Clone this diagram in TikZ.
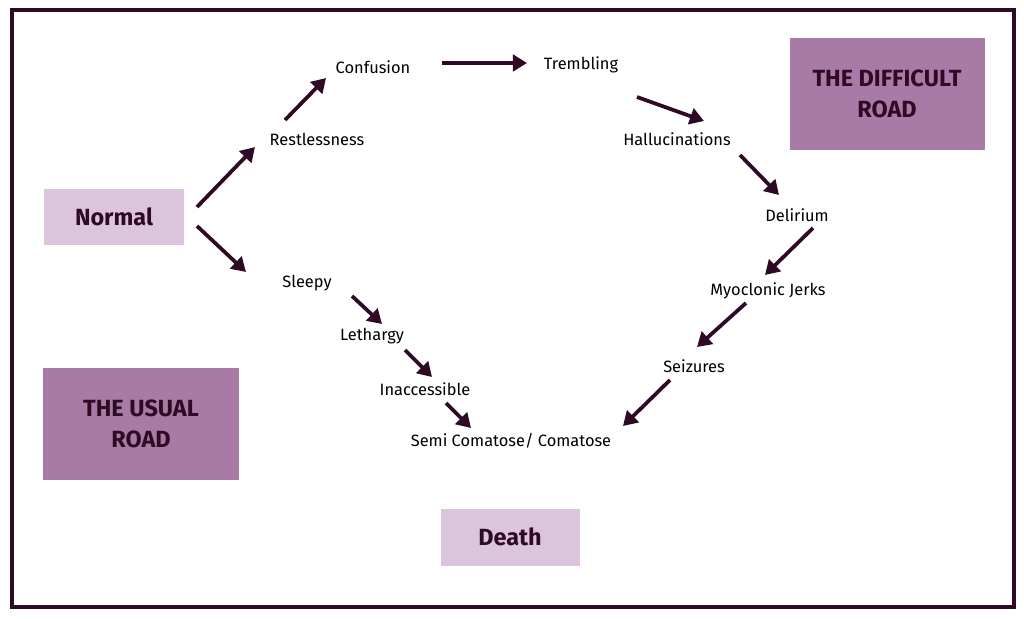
\documentclass[tikz,border=0pt]{standalone}
\usepackage{fontspec}
\setmainfont{Fira Sans}
\usetikzlibrary{arrows.meta}
\definecolor{plum}{HTML}{2E0A24}
\definecolor{lightplum}{HTML}{DCC4DC}
\definecolor{midplum}{HTML}{A87BA6}
\begin{document}
\begin{tikzpicture}[x=0.03cm,y=-0.03cm,
                    move/.style={-{Triangle[length=12pt,width=14pt]},line width=3.2pt,draw=plum},
                    stage/.style={font=\fontsize{14}{17}\selectfont,text=black},
                    lightbox/.style={fill=lightplum,font=\fontsize{20}{24}\selectfont\bfseries,text=plum},
                    roadbox/.style={fill=midplum,font=\fontsize{20}{26}\selectfont\bfseries,text=plum,align=center}]
  \useasboundingbox (0,0) rectangle (1024,619);
  \draw[line width=4pt,draw=plum] (12,10) rectangle (1014,607);

  % boxes
  \node[lightbox,minimum width=4.2cm,minimum height=1.65cm] (normal) at (114,217) {Normal};
  \node[lightbox,minimum width=4.17cm,minimum height=1.71cm] (death) at (510,537) {Death};
  \node[roadbox,minimum width=5.85cm,minimum height=3.36cm] (usual) at (141,424) {THE USUAL\\ROAD};
  \node[roadbox,minimum width=5.85cm,minimum height=3.36cm] (difficult) at (887,94) {THE DIFFICULT\\ROAD};

  % stages
  \node[stage] (confusion) at (373,67) {Confusion};
  \node[stage] (trembling) at (581,65) {Trembling};
  \node[stage] (restless) at (317,139) {Restlessness};
  \node[stage] (halluc) at (677,139) {Hallucinations};
  \node[stage] (delirium) at (797,215) {Delirium};
  \node[stage] (sleepy) at (307,283) {Sleepy};
  \node[stage] (myoclonic) at (768,291) {Myoclonic Jerks};
  \node[stage] (lethargy) at (372,336) {Lethargy};
  \node[stage] (seizures) at (694,366) {Seizures};
  \node[stage] (inaccess) at (425,389) {Inaccessible};
  \node[stage] (coma) at (511,441) {Semi Comatose/ Comatose};

  % arrow ends
  \coordinate (n1) at (197,207); \coordinate (r0) at (255,147);
  \coordinate (r1) at (285,120); \coordinate (c0) at (326,78);
  \coordinate (c1) at (442,63);  \coordinate (t0) at (527,63);
  \coordinate (t1) at (637,97);  \coordinate (h0) at (704,121);
  \coordinate (h1) at (740,155); \coordinate (d0) at (779,195);
  \coordinate (d1) at (813,228); \coordinate (m0) at (765,275);
  \coordinate (m1) at (746,303); \coordinate (s0) at (697,347);
  \coordinate (s1) at (670,380); \coordinate (k0) at (623,426);
  \coordinate (n2) at (197,226); \coordinate (y0) at (246,272);
  \coordinate (y1) at (352,296); \coordinate (l0) at (382,324);
  \coordinate (l1) at (405,350); \coordinate (i0) at (432,377);
  \coordinate (i1) at (446,403); \coordinate (k1) at (471,428);

  \draw[move] (n1) -- (r0);
  \draw[move] (r1) -- (c0);
  \draw[move] (c1) -- (t0);
  \draw[move] (t1) -- (h0);
  \draw[move] (h1) -- (d0);
  \draw[move] (d1) -- (m0);
  \draw[move] (m1) -- (s0);
  \draw[move] (s1) -- (k0);
  \draw[move] (n2) -- (y0);
  \draw[move] (y1) -- (l0);
  \draw[move] (l1) -- (i0);
  \draw[move] (i1) -- (k1);
\end{tikzpicture}
\end{document}
